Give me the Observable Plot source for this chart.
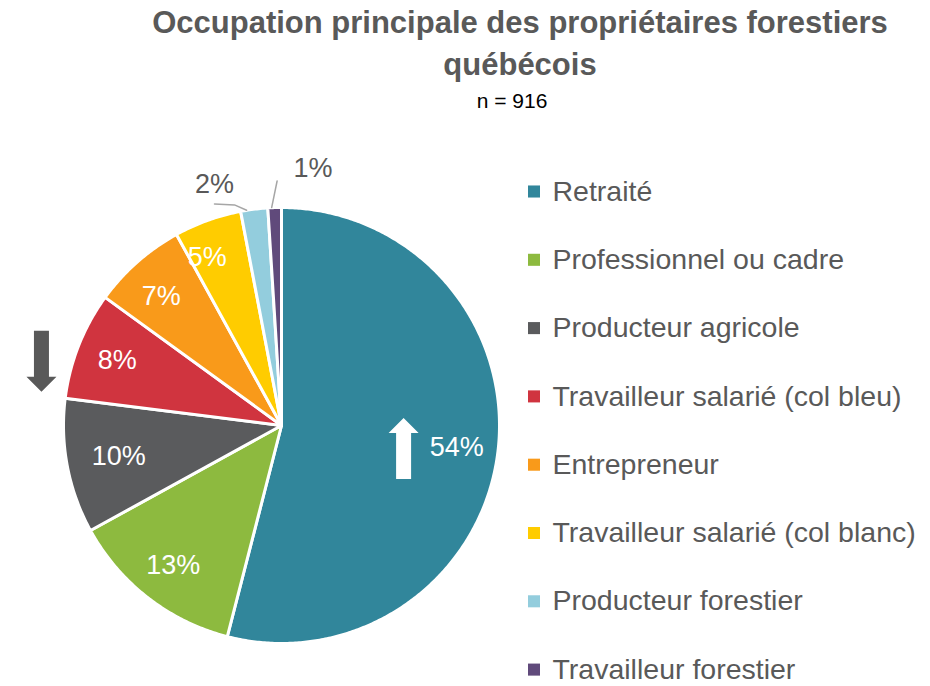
<!DOCTYPE html>
<html><head><meta charset="utf-8">
<script src="https://cdn.jsdelivr.net/npm/d3@7"></script>
<script src="https://cdn.jsdelivr.net/npm/@observablehq/plot@0.6"></script>
<style>
body{margin:0;background:#fff;}
#wrap{width:930px;height:686px;position:relative;overflow:hidden;}
#head{position:relative;width:930px;height:118px;}
.t{position:absolute;left:0;text-align:center;white-space:nowrap;}
.title{width:1040px;font-family:"Liberation Sans Narrow","Arial Narrow","Liberation Sans",sans-serif;font-weight:bold;color:#595959;font-size:31px;line-height:36px;}
.sub{width:1024px;font-family:"Liberation Sans Narrow","Liberation Sans",sans-serif;color:#000;font-size:21px;line-height:22px;}
#chart svg{display:block;}
</style></head>
<body>
<div id="wrap">
  <div id="head">
    <div class="t title" id="t1" style="top:5px"></div>
    <div class="t title" id="t2" style="top:47px"></div>
    <div class="t sub" id="st" style="top:90px"></div>
  </div>
  <div id="chart"></div>
</div>
<script>
const titleLines = ["Occupation principale des propriétaires forestiers", "québécois"];
const subtitle = "n = 916";
const categories = [
  "Retraité",
  "Professionnel ou cadre",
  "Producteur agricole",
  "Travailleur salarié (col bleu)",
  "Entrepreneur",
  "Travailleur salarié (col blanc)",
  "Producteur forestier",
  "Travailleur forestier"
];
const values = [54, 13, 10, 8, 7, 5, 2, 1];
const colors = ["#31869B", "#8DBA3F", "#5A5B5D", "#D0343F", "#F99A1A", "#FFCC00", "#93CDDD", "#604A7B"];
const arrows = [
  {category: "Retraité", dir: "up"},
  {category: "Travailleur salarié (col bleu)", dir: "down"}
];

document.getElementById("t1").textContent = titleLines[0];
document.getElementById("t2").textContent = titleLines[1];
document.getElementById("st").textContent = subtitle;

const R = 218;              // pie radius in px
const cx = 281, cy = 307;   // pie center in svg px
const px = v => v / R;      // px -> data units
const total = d3.sum(values);
const deg = Math.PI / 180;
const P = (a, r) => ({x: r * Math.sin(a), y: r * Math.cos(a)});

// slices
let cum = 0;
const slices = categories.map((c, i) => {
  const a0 = cum / total * 2 * Math.PI;
  cum += values[i];
  const a1 = cum / total * 2 * Math.PI;
  return {category: c, value: values[i], a0, a1, mid: (a0 + a1) / 2};
});
const slicePts = slices.flatMap(s => {
  const n = Math.max(2, Math.ceil((s.a1 - s.a0) / (0.5 * deg)));
  const pts = [{category: s.category, x: 0, y: 0}];
  for (let k = 0; k <= n; ++k) {
    const a = s.a0 + (s.a1 - s.a0) * k / n;
    pts.push({category: s.category, ...P(a, 1)});
  }
  return pts;
});

// labels
const inside = slices.filter(s => s.value >= 3).map(s => {
  const r = s.value === 10 ? 0.76 : s.value === 5 ? 0.845 : 0.81;
  const a = s.value === 5 ? s.mid - 4 * deg : s.value === 7 ? s.mid - 1.5 * deg : s.mid;
  return {...P(a, r), text: s.value + "%"};
});
const smalls = slices.filter(s => s.value < 3);
const outside = smalls.map((s, j) => {
  const a = s.mid + (j === 0 ? -8.3 : 8.8) * deg;
  const r = j === 0 ? 1.15 : 1.19;
  return {...P(a, r), text: s.value + "%", mid: s.mid, j};
});
const leaders = outside.flatMap(o => {
  const e = P(o.mid, 1.0);
  if (o.j === 0) {
    return [
      {id: o.j, ...P(o.mid - 2 * deg, 1.0)},
      {id: o.j, x: o.x + px(20), y: o.y - px(21)},
      {id: o.j, x: o.x, y: o.y - px(20)}
    ];
  }
  return [
    {id: o.j, x: e.x - px(3), y: e.y},
    {id: o.j, x: o.x - px(36), y: o.y - px(13)}
  ];
});

// arrows (block shapes)
function arrowShape(a, idx) {
  const s = slices.find(d => d.category === a.category);
  const c = a.dir === "up" ? P(s.mid + 3.5 * deg, 0.57) : P(s.mid - 6.6 * deg, 1.14);
  const L = 61, hl = 15, hw = 15, sw = 7.5;
  const sgn = a.dir === "up" ? 1 : -1;
  const pts = [
    [-sw, -L / 2], [-sw, L / 2 - hl], [-hw, L / 2 - hl], [0, L / 2],
    [hw, L / 2 - hl], [sw, L / 2 - hl], [sw, -L / 2]
  ];
  return pts.map(([dx, dy]) => ({id: idx, dir: a.dir, x: c.x + px(dx), y: c.y + px(sgn * dy)}));
}
const arrowPts = arrows.flatMap(arrowShape);

// legend
const legendTop = 73, legendStep = 68.3;
const legend = categories.map((c, i) => ({
  category: c,
  y: (cy - (legendTop + i * legendStep)) / R
}));
const legX = px(533.5 - cx), legTX = px(552 - cx);

const font = "Liberation Sans, Arial, sans-serif";
const H = 568;
const chart = Plot.plot({
  width: 930,
  height: H,
  x: {domain: [-1, 1], range: [cx - R, cx + R], axis: null},
  y: {domain: [-1, 1], range: [cy + R, cy - R], axis: null},
  color: {type: "ordinal", domain: categories, range: colors},
  style: {fontFamily: font, background: "white", overflow: "visible"},
  marks: [
    Plot.line(slicePts, {x: "x", y: "y", z: "category", fill: "category", stroke: "white", strokeWidth: 3, curve: "linear-closed", strokeLinejoin: "round"}),
    Plot.text(inside, {x: "x", y: "y", text: "text", fill: "white", fontSize: 27, lineAnchor: "middle"}),
    Plot.line(leaders, {x: "x", y: "y", z: "id", stroke: "#A6A6A6", strokeWidth: 1.5}),
    Plot.text(outside, {x: "x", y: "y", text: "text", fill: "#595959", fontSize: 27, lineAnchor: "middle"}),
    Plot.line(arrowPts, {x: "x", y: "y", z: "id", fill: d => d.dir === "up" ? "white" : "#595959", stroke: "none", curve: "linear-closed"}),
    Plot.dot(legend, {x: () => legX, y: "y", fill: "category", symbol: "square", r: 6.8, stroke: "none"}),
    Plot.text(legend, {x: () => legTX, y: "y", text: "category", textAnchor: "start", fill: "#595959", fontSize: 28.5, lineAnchor: "middle"})
  ]
});
document.getElementById("chart").appendChild(chart);
</script>
</body></html>
